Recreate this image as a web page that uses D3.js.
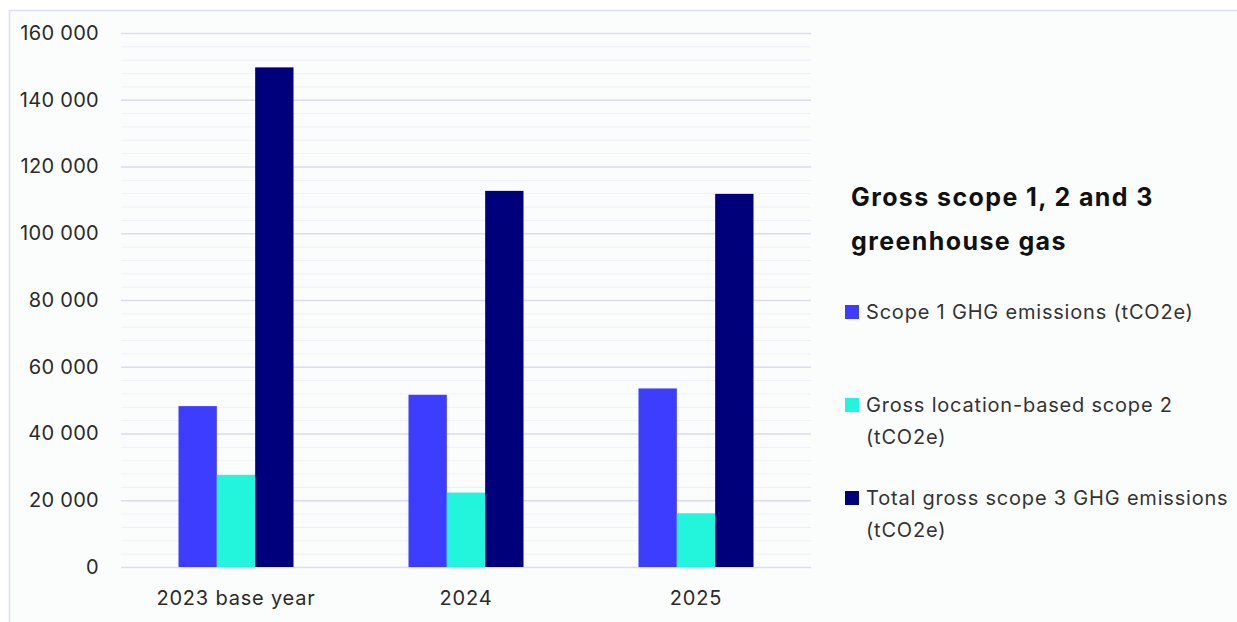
<!DOCTYPE html>
<html>
<head>
<meta charset="utf-8">
<script src="https://cdn.jsdelivr.net/npm/d3@7"></script>
<style>
  body { margin: 0; background: #ffffff; }
  svg { display: block; font-family: Inter, "Noto Sans", sans-serif; }
</style>
</head>
<body>
<svg id="chart" width="1237" height="622"></svg>
<script>
// data
var years = ["2023 base year", "2024", "2025"];
var seriesNames = ["Scope 1 GHG emissions (tCO2e)", "Gross location-based scope 2 (tCO2e)", "Total gross scope 3 GHG emissions (tCO2e)"];
var scope1 = [48200, 51600, 53500];
var scope2 = [27600, 22300, 16100];
var scope3 = [149700, 112700, 111800];
var yTicks = [0, 20000, 40000, 60000, 80000, 100000, 120000, 140000, 160000];
var colors = ["#3d3dff", "#22f5dc", "#00007a"];

var svg = d3.select("#chart");

// panel frame
svg.append("rect")
  .attr("x", 9.5).attr("y", 10.5)
  .attr("width", 1300).attr("height", 700)
  .attr("fill", "#fbfdfd")
  .attr("stroke", "#dde0ee")
  .attr("stroke-width", 1.5);

var margin = {top: 33, left: 121},
  width = 690,
  height = 534,
  g = svg.append("g").attr("transform", "translate(" + margin.left + "," + margin.top + ")");

var x = d3.scaleBand().domain(years).range([0, width]).paddingInner(0.5).paddingOuter(0.25);
var xs = d3.scaleBand().domain(d3.range(3)).range([0, x.bandwidth()]);
var y = d3.scaleLinear().domain([0, 160000]).range([height, 0]);

// minor grid
g.append("g")
  .selectAll("line")
  .data(d3.range(0, 160001, 4000).filter(function(d) { return d % 20000 != 0; }))
  .enter().append("line")
  .attr("x1", 0).attr("x2", width)
  .attr("y1", function(d) { return y(d) + 0.5; })
  .attr("y2", function(d) { return y(d) + 0.5; })
  .attr("stroke", "#eef0f6")
  .attr("stroke-width", 1);

// major grid + labels
var yAxis = g.append("g")
  .call(d3.axisLeft(y).tickValues(yTicks).tickSize(-width).tickPadding(22)
    .tickFormat(function(d) { return d3.format(",")(d).replace(",", " "); }));
yAxis.select(".domain").remove();
yAxis.selectAll(".tick line").attr("stroke", "#d9ddee").attr("stroke-width", 1.5);
yAxis.selectAll(".tick text")
  .attr("fill", "#2a2a2a")
  .style("font-size", "20px")
  .style("letter-spacing", "0.3px")
  .style("font-family", "Inter, 'Noto Sans', sans-serif");

// bars
var data = years.map(function(yr, i) { return {year: yr, values: [scope1[i], scope2[i], scope3[i]]}; });

g.append("g")
  .selectAll("g")
  .data(data)
  .enter().append("g")
  .attr("transform", function(d) { return "translate(" + x(d.year) + ",0)"; })
  .selectAll("rect")
  .data(function(d) { return d.values; })
  .enter().append("rect")
  .attr("x", function(d, i) { return xs(i); })
  .attr("width", xs.bandwidth())
  .attr("y", function(d) { return y(d); })
  .attr("height", function(d) { return height - y(d); })
  .attr("fill", function(d, i) { return colors[i]; });

// x labels
var xAxis = g.append("g")
  .attr("transform", "translate(0," + height + ")")
  .call(d3.axisBottom(x).tickSize(0).tickPadding(24));
xAxis.select(".domain").remove();
xAxis.selectAll(".tick text")
  .attr("fill", "#2a2a2a")
  .style("font-size", "20px")
  .style("letter-spacing", "0.8px")
  .style("font-family", "Inter, 'Noto Sans', sans-serif");

// legend title
var title = svg.append("text")
  .attr("x", 851).attr("y", 206)
  .attr("fill", "#111")
  .style("font-size", "25px")
  .style("letter-spacing", "1.4px")
  .style("font-weight", "bold");
title.append("tspan").attr("x", 851).text("Gross scope 1, 2 and 3");
title.append("tspan").attr("x", 851).attr("dy", 44).text("greenhouse gas");

// legend items
var legendLines = [["Scope 1 GHG emissions (tCO2e)"], ["Gross location-based scope 2", "(tCO2e)"], ["Total gross scope 3 GHG emissions", "(tCO2e)"]];
var legendY = [312, 405, 498];

var items = svg.append("g")
  .selectAll("g")
  .data(seriesNames)
  .enter().append("g")
  .attr("transform", function(d, i) { return "translate(845," + legendY[i] + ")"; });

items.append("rect")
  .attr("x", 0).attr("y", -7)
  .attr("width", 14).attr("height", 14)
  .attr("fill", function(d, i) { return colors[i]; });

items.append("text")
  .attr("fill", "#333")
  .style("font-size", "20px")
  .style("letter-spacing", "0.8px")
  .selectAll("tspan")
  .data(function(d, i) { return legendLines[i]; })
  .enter().append("tspan")
  .attr("x", 21)
  .attr("y", function(d, j) { return j * 32 + 7; })
  .text(function(d) { return d; });
</script>
</body>
</html>
